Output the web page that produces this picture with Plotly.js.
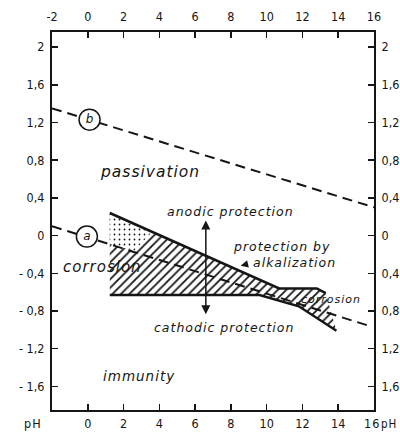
<!DOCTYPE html>
<html><head><meta charset="utf-8">
<script src="https://cdn.plot.ly/plotly-3.0.1.min.js"></script>
<style>
html,body{margin:0;padding:0;background:#fff;}
#chart{width:400px;height:433px;}
.annotation-text{letter-spacing:1px;}
</style></head><body><div id="chart"></div>
<script>
// line b (O2 / H2O), dashed
const lineB_pH = [-2, 16];
const lineB_E = [1.35, 0.30];
// line a (H2 / H2O), dashed
const lineA_pH = [-2, 15.6];
const lineA_E = [0.10, -0.95];
// circled line labels
const markLabels = ['b', 'a'];
const mark_pH = [0.1, -0.05];
const mark_E = [1.23, -0.01];
// hatched protection region: upper and lower boundaries
const upper_pH = [1.23, 10.7, 12.8, 13.3];
const upper_E = [0.24, -0.56, -0.56, -0.61];
const lower_pH = [1.23, 9.6, 11.8, 13.9];
const lower_E = [-0.63, -0.63, -0.75, -1.01];
// stippled corner of the region
const stipple_pH = [1.23, 3.6, 2.6, 1.23];
const stipple_E = [0.24, 0.04, -0.16, -0.09];
// protection arrow
const arrow_pH = 6.6, arrowTop_E = 0.16, arrowBottom_E = -0.85;
// ticks
const xTicks = [-2, 0, 2, 4, 6, 8, 10, 12, 14, 16];
const xTopText = ['-2', '0', '2', '4', '6', '8', '10', '12', '14', '16'];
const xBottomText = ['', '0', '2', '4', '6', '8', '10', '12', '14', ''];
const yTicks = [-1.6, -1.2, -0.8, -0.4, 0, 0.4, 0.8, 1.2, 1.6, 2];
const yLeftText = ['- 1,6', '- 1,2', '- 0,8', '- 0,4', '0', '0,4', '0,8', '1,2', '1,6', '2'];
const yRightText = ['1,6', '1,2', '0,8', '0,4', '0', '0,4', '0,8', '1,2', '1,6', '2'];

const INK = '#151515';
const xr = [-2, 16], yr = [-1.85, 2.16];

const regionX = upper_pH.concat(lower_pH.slice().reverse());
const regionY = upper_E.concat(lower_E.slice().reverse());

const traces = [
  {x: regionX, y: regionY, mode: 'lines', fill: 'toself', line: {width: 0, color: 'rgba(0,0,0,0)'},
   fillcolor: 'rgba(0,0,0,0)',
   fillpattern: {shape: '/', size: 6, solidity: 0.3, fgcolor: INK, bgcolor: 'white'}, hoverinfo: 'skip'},
  {x: stipple_pH, y: stipple_E, mode: 'lines', fill: 'toself', line: {width: 0, color: 'rgba(0,0,0,0)'},
   fillcolor: 'rgba(0,0,0,0)',
   fillpattern: {shape: '.', size: 5, solidity: 0.1, fgcolor: INK, bgcolor: 'white'}, hoverinfo: 'skip'},
  {x: lineB_pH, y: lineB_E, mode: 'lines', line: {color: INK, width: 2, dash: '10px,6px'}},
  {x: lineA_pH, y: lineA_E, mode: 'lines', line: {color: INK, width: 2, dash: '10px,6px'}},
  {x: upper_pH, y: upper_E, mode: 'lines', line: {color: INK, width: 2.5}},
  {x: lower_pH, y: lower_E, mode: 'lines', line: {color: INK, width: 2.5}},
  {x: mark_pH, y: mark_E, mode: 'markers+text', text: markLabels, textposition: 'middle center',
   textfont: {family: 'DejaVu Sans', size: 12, color: INK, style: 'italic'},
   marker: {size: 21, color: 'white', line: {color: INK, width: 1.5}}},
  {x: [0], y: [0], xaxis: 'x2', yaxis: 'y2', mode: 'markers', marker: {opacity: 0}, hoverinfo: 'skip'}
];

const axFont = {family: 'Liberation Sans Narrow, DejaVu Sans Condensed, sans-serif', size: 12.5, color: INK};
const axBase = {showline: true, linewidth: 2, linecolor: INK, ticks: 'inside', ticklen: 6, tickwidth: 1.5,
  tickcolor: INK, showgrid: false, zeroline: false, tickfont: axFont, tickmode: 'array', fixedrange: true};

const lab = {family: 'DejaVu Sans', color: INK, style: 'italic'};
function note(text, x, y, size) {
  return {text: text, x: x, y: y, xref: 'x', yref: 'y', showarrow: false, xanchor: 'center', yanchor: 'middle',
    font: Object.assign({}, lab, {size: size})};
}

const layout = {
  width: 400, height: 433,
  margin: {l: 52, r: 26, t: 32, b: 23, pad: 0},
  paper_bgcolor: 'white', plot_bgcolor: 'white',
  showlegend: false,
  xaxis: Object.assign({}, axBase, {range: xr, side: 'bottom', tickvals: xTicks, ticktext: xBottomText, ticklabelstandoff: 1}),
  xaxis2: Object.assign({}, axBase, {range: xr, side: 'top', overlaying: 'x', anchor: 'y', tickvals: xTicks, ticktext: xTopText, ticklabelstandoff: 4}),
  yaxis: Object.assign({}, axBase, {range: yr, side: 'left', tickvals: yTicks, ticktext: yLeftText, ticklabelstandoff: 3}),
  yaxis2: Object.assign({}, axBase, {range: yr, side: 'right', overlaying: 'y', anchor: 'x', tickvals: yTicks, ticktext: yRightText, ticklabelstandoff: 3}),
  annotations: [
    note('passivation', 3.46, 0.68, 15.5),
    note('anodic protection', 7.98, 0.26, 12.5),
    note('protection by', 10.82, -0.12, 12.5),
    note('alkalization', 11.55, -0.29, 12.5),
    note('corrosion', 0.84, -0.33, 15),
    note('corrosion', 13.6, -0.68, 11),
    note('cathodic protection', 7.64, -0.97, 12.5),
    note('immunity', 2.85, -1.49, 13.5),
    {text: '', x: arrow_pH, y: arrowTop_E, ax: arrow_pH, ay: arrowBottom_E, xref: 'x', yref: 'y',
     axref: 'x', ayref: 'y', showarrow: true, arrowside: 'end+start', arrowhead: 2, arrowsize: 1.2,
     arrowwidth: 1.5, arrowcolor: INK},
    {text: '', x: 8.55, y: -0.32, xref: 'x', yref: 'y', ax: 8, ay: -2, showarrow: true, arrowhead: 2,
     arrowsize: 1, arrowwidth: 1.5, arrowcolor: INK},
    {text: 'pH', xref: 'paper', yref: 'paper', x: -0.06, y: -0.036, showarrow: false,
     xanchor: 'center', yanchor: 'middle', font: axFont},
    {text: '16', xref: 'paper', yref: 'paper', x: 0.994, y: -0.036, showarrow: false,
     xanchor: 'center', yanchor: 'middle', font: axFont},
    {text: 'pH', xref: 'paper', yref: 'paper', x: 1.078, y: -0.036, showarrow: false,
     xanchor: 'right', yanchor: 'middle', font: Object.assign({}, axFont, {size: 11.5})}
  ]
};

Plotly.newPlot('chart', traces, layout, {displayModeBar: false, staticPlot: true});
</script></body></html>
